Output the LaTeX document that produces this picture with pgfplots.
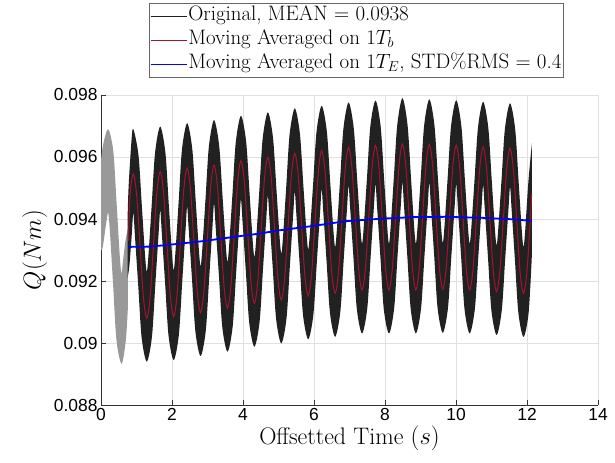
\documentclass[border=0pt]{standalone}
\usepackage{fontspec}
\usepackage{pgfplots}
\pgfplotsset{compat=1.18}
\usepgfplotslibrary{fillbetween}
\newfontfamily\helv{Liberation Sans}
\definecolor{mred}{rgb}{0.635,0.078,0.184}
\definecolor{mblack}{rgb}{0.13,0.13,0.13}
\definecolor{mgrey}{rgb}{0.6,0.6,0.6}
\begin{document}
\begin{tikzpicture}
\begin{axis}[
  at={(0,0)}, anchor=south west,
  scale only axis, width=497bp, height=310bp,
  xmin=0, xmax=14, ymin=0.088, ymax=0.098,
  axis lines*=left,
  xtick={0,2,4,6,8,10,12,14},
  xticklabels={0,2,4,6,8,10,12,14},
  ytick={0.088,0.090,0.092,0.094,0.096,0.098},
  yticklabels={0.088,0.09,0.092,0.094,0.096,0.098},
  scaled y ticks=false,
  grid=major,
  major grid style={black!12, line width=0.5bp},
  axis line style={black!80, line width=0.6bp},
  tick style={black!80, line width=0.6bp},
  major tick length=5bp,
  tick align=inside,
  ticklabel style={font=\helv\fontsize{17.5}{17.5}\selectfont},
  xlabel={Offsetted Time $(s)$},
  ylabel={$Q(Nm)$},
  label style={font=\fontsize{24}{28}\selectfont},
  xlabel style={yshift=2bp},
  legend style={at={(0.514,1.055)}, anchor=south, draw=black!60, line width=0.6bp, fill=white,
    font=\fontsize{21}{24}\selectfont, row sep=0pt, inner xsep=1bp, inner ysep=1bp,
    nodes={inner sep=1bp, text height=15bp, text depth=7bp}},
  legend cell align=left,
  legend image code/.code={\draw[#1] (0bp,0bp) -- (36bp,0bp);},
]
% grey initial segment (upper and lower edges)
\addplot[name path=gU, draw=none, smooth, forget plot] coordinates {
(0,0.0959)(0.06,0.0964)(0.20,0.0969)(0.345,0.0962)(0.44,0.0945)(0.535,0.0927)(0.58,0.09225)(0.625,0.0927)(0.69,0.0933)(0.76,0.0937)};
\addplot[name path=gL, draw=none, smooth, forget plot] coordinates {
(0,0.0930)(0.05,0.0931)(0.15,0.0939)(0.20,0.0942)(0.245,0.0937)(0.34,0.0919)(0.435,0.0901)(0.58,0.08933)(0.70,0.0901)(0.76,0.0912)};
\addplot[mgrey, forget plot] fill between[of=gU and gL];
% original signal band (upper and lower edges)
\addplot[name path=bU, draw=none, smooth, forget plot] coordinates {
(0.75,0.0941)(0.78,0.0951)(0.86,0.09655)
(0.910,0.09690)(1.055,0.09607)(1.150,0.09443)(1.244,0.09278)(1.289,0.09230)(1.334,0.09279)(1.429,0.09447)(1.523,0.09614)
(1.668,0.09698)(1.813,0.09615)(1.908,0.09449)(2.002,0.09284)(2.047,0.09235)(2.092,0.09285)(2.187,0.09455)(2.281,0.09624)
(2.426,0.09709)(2.571,0.09626)(2.666,0.09461)(2.760,0.09296)(2.805,0.09248)(2.850,0.09298)(2.945,0.09466)(3.039,0.09634)
(3.184,0.09719)(3.329,0.09636)(3.424,0.09473)(3.518,0.09310)(3.563,0.09262)(3.608,0.09312)(3.703,0.09480)(3.797,0.09648)
(3.942,0.09733)(4.087,0.09651)(4.182,0.09488)(4.276,0.09325)(4.321,0.09278)(4.366,0.09327)(4.461,0.09494)(4.555,0.09660)
(4.700,0.09744)(4.845,0.09662)(4.940,0.09499)(5.034,0.09336)(5.079,0.09289)(5.124,0.09338)(5.219,0.09506)(5.313,0.09673)
(5.458,0.09757)(5.603,0.09675)(5.698,0.09512)(5.792,0.09349)(5.837,0.09302)(5.882,0.09351)(5.977,0.09516)(6.071,0.09681)
(6.216,0.09765)(6.361,0.09683)(6.456,0.09520)(6.550,0.09357)(6.595,0.09310)(6.640,0.09359)(6.735,0.09526)(6.829,0.09692)
(6.974,0.09776)(7.119,0.09694)(7.214,0.09531)(7.308,0.09368)(7.353,0.09321)(7.398,0.09369)(7.493,0.09534)(7.587,0.09699)
(7.732,0.09782)(7.877,0.09699)(7.972,0.09534)(8.066,0.09369)(8.111,0.09321)(8.156,0.09370)(8.251,0.09537)(8.345,0.09703)
(8.490,0.09790)(8.635,0.09703)(8.730,0.09537)(8.824,0.09370)(8.869,0.09321)(8.914,0.09370)(9.009,0.09536)(9.103,0.09702)
(9.248,0.09786)(9.393,0.09702)(9.488,0.09537)(9.582,0.09372)(9.627,0.09323)(9.672,0.09371)(9.767,0.09536)(9.861,0.09700)
(10.006,0.09783)(10.151,0.09700)(10.246,0.09535)(10.340,0.09369)(10.385,0.09321)(10.430,0.09369)(10.525,0.09532)(10.619,0.09695)
(10.764,0.09778)(10.909,0.09695)(11.004,0.09530)(11.098,0.09364)(11.143,0.09316)(11.188,0.09364)(11.283,0.09527)(11.377,0.09690)
(11.522,0.09773)(11.667,0.09690)(11.762,0.09524)(11.856,0.09358)(11.901,0.09310)(11.946,0.09358)(12.041,0.09524)(12.14,0.09645)};
\addplot[name path=bL, draw=none, smooth, forget plot] coordinates {
(0.75,0.0921)(0.80,0.0925)(0.865,0.09347)
(0.910,0.09420)(0.955,0.09347)(1.050,0.09183)(1.144,0.09018)(1.289,0.08940)(1.434,0.09019)(1.529,0.09187)(1.623,0.09354)
(1.668,0.09428)(1.713,0.09355)(1.808,0.09189)(1.902,0.09024)(2.047,0.08945)(2.192,0.09025)(2.287,0.09195)(2.381,0.09364)
(2.426,0.09439)(2.471,0.09366)(2.566,0.09201)(2.660,0.09036)(2.805,0.08958)(2.950,0.09038)(3.045,0.09206)(3.139,0.09374)
(3.184,0.09449)(3.229,0.09376)(3.324,0.09213)(3.418,0.09050)(3.563,0.08972)(3.708,0.09052)(3.803,0.09220)(3.897,0.09388)
(3.942,0.09463)(3.987,0.09391)(4.082,0.09228)(4.176,0.09065)(4.321,0.08988)(4.466,0.09067)(4.561,0.09234)(4.655,0.09400)
(4.700,0.09474)(4.745,0.09402)(4.840,0.09239)(4.934,0.09076)(5.079,0.08999)(5.224,0.09078)(5.319,0.09246)(5.413,0.09413)
(5.458,0.09487)(5.503,0.09415)(5.598,0.09252)(5.692,0.09089)(5.837,0.09012)(5.982,0.09091)(6.077,0.09256)(6.171,0.09421)
(6.216,0.09495)(6.261,0.09423)(6.356,0.09260)(6.450,0.09097)(6.595,0.09020)(6.740,0.09099)(6.835,0.09266)(6.929,0.09432)
(6.974,0.09506)(7.019,0.09434)(7.114,0.09271)(7.208,0.09108)(7.353,0.09031)(7.498,0.09109)(7.593,0.09274)(7.687,0.09439)
(7.732,0.09512)(7.777,0.09439)(7.872,0.09274)(7.966,0.09109)(8.111,0.09031)(8.256,0.09110)(8.351,0.09277)(8.445,0.09443)
(8.490,0.09517)(8.535,0.09443)(8.630,0.09277)(8.724,0.09110)(8.869,0.09031)(9.014,0.09110)(9.109,0.09276)(9.203,0.09442)
(9.248,0.09516)(9.293,0.09442)(9.388,0.09277)(9.482,0.09112)(9.627,0.09033)(9.772,0.09111)(9.867,0.09276)(9.961,0.09440)
(10.006,0.09513)(10.051,0.09440)(10.146,0.09275)(10.240,0.09109)(10.385,0.09031)(10.530,0.09109)(10.625,0.09272)(10.719,0.09435)
(10.764,0.09508)(10.809,0.09435)(10.904,0.09270)(10.998,0.09104)(11.143,0.09026)(11.288,0.09104)(11.383,0.09267)(11.477,0.09430)
(11.522,0.09503)(11.567,0.09430)(11.662,0.09264)(11.756,0.09098)(11.901,0.09020)(12.046,0.09098)(12.14,0.0929)};
\addplot[mblack, forget plot] fill between[of=bU and bL];
% moving average on 1 T_b
\addplot[mred, line width=1.0bp, smooth, forget plot] coordinates {
(0.77,0.0933)(0.82,0.0948)
(0.910,0.09545)(1.005,0.09477)(1.100,0.09313)(1.194,0.09148)(1.289,0.09080)(1.384,0.09149)(1.479,0.09317)(1.573,0.09484)
(1.668,0.09553)(1.763,0.09485)(1.858,0.09319)(1.952,0.09154)(2.047,0.09085)(2.142,0.09155)(2.237,0.09325)(2.331,0.09494)
(2.426,0.09564)(2.521,0.09496)(2.616,0.09331)(2.710,0.09166)(2.805,0.09098)(2.900,0.09168)(2.995,0.09336)(3.089,0.09504)
(3.184,0.09574)(3.279,0.09506)(3.374,0.09343)(3.468,0.09180)(3.563,0.09112)(3.658,0.09182)(3.753,0.09350)(3.847,0.09518)
(3.942,0.09588)(4.037,0.09521)(4.132,0.09358)(4.226,0.09195)(4.321,0.09128)(4.416,0.09197)(4.511,0.09364)(4.605,0.09530)
(4.700,0.09599)(4.795,0.09532)(4.890,0.09369)(4.984,0.09206)(5.079,0.09139)(5.174,0.09208)(5.269,0.09376)(5.363,0.09543)
(5.458,0.09612)(5.553,0.09545)(5.648,0.09382)(5.742,0.09219)(5.837,0.09152)(5.932,0.09221)(6.027,0.09386)(6.121,0.09551)
(6.216,0.09620)(6.311,0.09553)(6.406,0.09390)(6.500,0.09227)(6.595,0.09160)(6.690,0.09229)(6.785,0.09396)(6.879,0.09562)
(6.974,0.09631)(7.069,0.09564)(7.164,0.09401)(7.258,0.09238)(7.353,0.09171)(7.448,0.09239)(7.543,0.09404)(7.637,0.09569)
(7.732,0.09637)(7.827,0.09569)(7.922,0.09404)(8.016,0.09239)(8.111,0.09171)(8.206,0.09240)(8.301,0.09407)(8.395,0.09573)
(8.490,0.09642)(8.585,0.09573)(8.680,0.09407)(8.774,0.09240)(8.869,0.09171)(8.964,0.09240)(9.059,0.09406)(9.153,0.09572)
(9.248,0.09641)(9.343,0.09572)(9.438,0.09407)(9.532,0.09242)(9.627,0.09173)(9.722,0.09241)(9.817,0.09406)(9.911,0.09570)
(10.006,0.09638)(10.101,0.09570)(10.196,0.09405)(10.290,0.09239)(10.385,0.09171)(10.480,0.09239)(10.575,0.09402)(10.669,0.09565)
(10.764,0.09633)(10.859,0.09565)(10.954,0.09400)(11.048,0.09234)(11.143,0.09166)(11.238,0.09234)(11.333,0.09397)(11.427,0.09560)
(11.522,0.09628)(11.617,0.09560)(11.712,0.09394)(11.806,0.09228)(11.901,0.09160)(11.996,0.09228)(12.091,0.09394)(12.13,0.0948)};
% moving average on 1 T_E
\addplot[blue, line width=1.8bp, forget plot] coordinates {
(0.77,0.09310)(1.4,0.09311)(2.1,0.09319)(2.9,0.09329)(3.6,0.09340)(4.4,0.09352)(5.0,0.09363)(5.6,0.09372)(6.0,0.09378)(6.9,0.09393)(7.9,0.09401)(8.8,0.09406)(9.7,0.09407)(10.7,0.09404)(11.6,0.09399)(12.13,0.09394)};
\addlegendimage{draw=mblack, line width=0.8bp}
\addlegendentry{Original, MEAN = 0.0938}
\addlegendimage{draw=mred, line width=0.8bp}
\addlegendentry{Moving Averaged on $1T_b$}
\addlegendimage{draw=blue, line width=0.8bp}
\addlegendentry{Moving Averaged on $1T_E$, STD\%RMS = 0.4}
\end{axis}
\path (-101bp,-58bp) rectangle (514bp,405bp);
\end{tikzpicture}
\end{document}
